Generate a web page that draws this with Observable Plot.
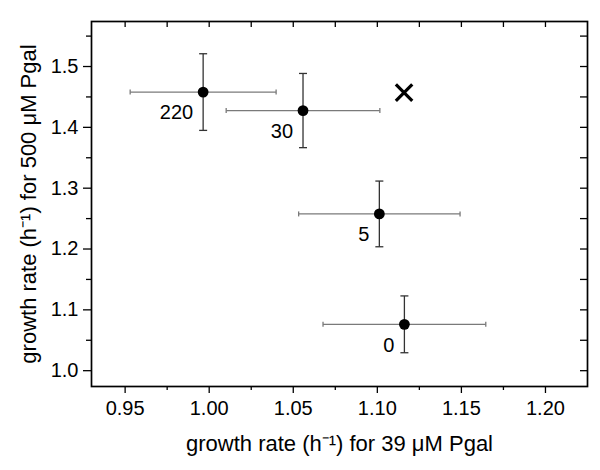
<!DOCTYPE html>
<html>
<head>
<meta charset="utf-8">
<script src="https://cdn.jsdelivr.net/npm/d3@7"></script>
<script src="https://cdn.jsdelivr.net/npm/@observablehq/plot@0.6"></script>
<style>
  html, body { margin: 0; padding: 0; background: #fff; }
  #chart svg { display: block; }
</style>
</head>
<body>
<div id="chart"></div>
<script>
// Data
const labels = ["220", "30", "5", "0"];
const xVals = [0.9964, 1.0558, 1.1012, 1.1161];
const yVals = [1.458, 1.4276, 1.2577, 1.0762];
const xErr = [0.0434, 0.0457, 0.048, 0.0484];
const yErr = [0.063, 0.061, 0.054, 0.0467];
const crossX = [1.1159];
const crossY = [1.457];

const xMajor = [0.95, 1.00, 1.05, 1.10, 1.15, 1.20];
const xMinor = [0.975, 1.025, 1.075, 1.125, 1.175];
const yMajor = [1.0, 1.1, 1.2, 1.3, 1.4, 1.5];
const yMinor = [1.05, 1.15, 1.25, 1.35, 1.45, 1.55];
const xDomain = [0.93, 1.225];
const yDomain = [0.974, 1.574];
const xTitle = "growth rate (h\u207B\u00B9) for 39 \u03BCM Pgal";
const yTitle = "growth rate (h\u207B\u00B9) for 500 \u03BCM Pgal";

const points = labels.map((l, i) => ({label: l, x: xVals[i], y: yVals[i], ex: xErr[i], ey: yErr[i]}));
const cross = crossX.map((x, i) => ({x, y: crossY[i]}));

const hCap = {draw(ctx, size) { const r = Math.sqrt(size / Math.PI); ctx.moveTo(-r, 0); ctx.lineTo(r, 0); }};
const vCap = {draw(ctx, size) { const r = Math.sqrt(size / Math.PI); ctx.moveTo(0, -r); ctx.lineTo(0, r); }};

const W = 600, H = 470, ML = 91, MR = 13, MT = 21, MB = 84;
const fw = W - ML - MR, fh = H - MT - MB;

const chart = Plot.plot({
  width: W, height: H,
  marginLeft: ML, marginRight: MR, marginTop: MT, marginBottom: MB,
  style: {fontFamily: "'Liberation Sans', Arial, sans-serif", fontSize: "20px", color: "black", background: "white"},
  x: {domain: xDomain},
  y: {domain: yDomain},
  marks: [
    // outward ticks
    Plot.axisX({anchor: "bottom", ticks: xMajor, tickFormat: ".2f", tickSize: 7, tickPadding: 7, label: null, fontSize: 20, strokeWidth: 1.3}),
    Plot.axisX({anchor: "bottom", ticks: xMinor, tickFormat: () => "", tickSize: 4, label: null, strokeWidth: 1.3}),
    Plot.axisY({anchor: "left", ticks: yMajor, tickFormat: ".1f", tickSize: 8, tickPadding: 5, label: null, fontSize: 20, strokeWidth: 1.3}),
    Plot.axisY({anchor: "left", ticks: yMinor, tickFormat: () => "", tickSize: 5, label: null, strokeWidth: 1.3}),
    // inward mirror ticks
    Plot.ruleX(xMajor.concat(xMinor), {stroke: "black", strokeWidth: 1.3, insetBottom: fh - 6}),
    Plot.ruleY(yMajor.concat(yMinor), {stroke: "black", strokeWidth: 1.3, insetLeft: fw - 7}),
    Plot.frame({stroke: "black", strokeWidth: 1.7}),
    // error bars
    Plot.link(points, {x1: d => d.x - d.ex, x2: d => d.x + d.ex, y1: "y", y2: "y", stroke: "#7a7a7a", strokeWidth: 1.3}),
    Plot.dot(points, {x: d => d.x - d.ex, y: "y", symbol: vCap, r: 2.5, stroke: "#7a7a7a", strokeWidth: 1.3}),
    Plot.dot(points, {x: d => d.x + d.ex, y: "y", symbol: vCap, r: 2.5, stroke: "#7a7a7a", strokeWidth: 1.3}),
    Plot.link(points, {x1: "x", x2: "x", y1: d => d.y - d.ey, y2: d => d.y + d.ey, stroke: "#333", strokeWidth: 1.3}),
    Plot.dot(points, {x: "x", y: d => d.y - d.ey, symbol: hCap, r: 4, stroke: "#333", strokeWidth: 1.3}),
    Plot.dot(points, {x: "x", y: d => d.y + d.ey, symbol: hCap, r: 4, stroke: "#333", strokeWidth: 1.3}),
    // points
    Plot.dot(points, {x: "x", y: "y", r: 5.4, fill: "black", stroke: "none"}),
    Plot.dot(cross, {x: "x", y: "y", symbol: "times", r: 7.5, stroke: "black", strokeWidth: 3.2}),
    Plot.text(points, {x: "x", y: "y", text: "label", dx: -10, dy: 21, textAnchor: "end", fontSize: 20, fill: "black"}),
    // axis titles
    Plot.text([xTitle], {frameAnchor: "bottom", dy: 57, textAnchor: "middle", lineAnchor: "middle", fontSize: 22, fill: "black"}),
    Plot.text([yTitle], {frameAnchor: "left", dx: -63, rotate: -90, textAnchor: "middle", lineAnchor: "middle", fontSize: 22, fill: "black"})
  ]
});
document.getElementById("chart").appendChild(chart);
</script>
</body>
</html>
